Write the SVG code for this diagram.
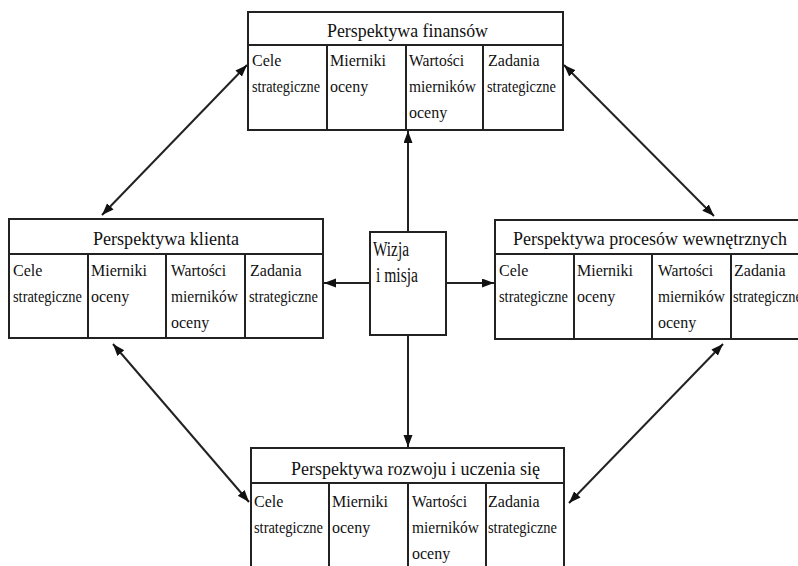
<svg xmlns="http://www.w3.org/2000/svg" width="798" height="566" viewBox="0 0 798 566">
<style>
.box{fill:#fff;stroke:#222;stroke-width:2}
.div{stroke:#222;stroke-width:2;fill:none}
.hdr{font-family:'Liberation Serif','DejaVu Serif',serif;font-size:18px;fill:#111}
.cell{font-family:'Liberation Serif','DejaVu Serif',serif;font-size:16px;fill:#111}
.wiz{font-family:'Liberation Serif','DejaVu Serif',serif;font-size:20px;fill:#111}
.con{stroke:#222;stroke-width:2;fill:none}
</style>
<defs>
<marker id="ah" markerUnits="userSpaceOnUse" markerWidth="13" markerHeight="10" refX="12" refY="4.5" orient="auto-start-reverse">
<path d="M0,0 L12,4.5 L0,9 z" fill="#111"/>
</marker>
</defs>

<g id="connectors">
<line class="con" x1="408" y1="232" x2="408" y2="131" marker-end="url(#ah)"/>
<line class="con" x1="408" y1="335" x2="408" y2="447" marker-end="url(#ah)"/>
<line class="con" x1="370" y1="283" x2="324" y2="283" marker-end="url(#ah)"/>
<line class="con" x1="446" y1="283" x2="494" y2="283" marker-end="url(#ah)"/>
<line class="con" x1="247" y1="65" x2="102" y2="215" marker-start="url(#ah)" marker-end="url(#ah)"/>
<line class="con" x1="564" y1="65" x2="714" y2="216" marker-start="url(#ah)" marker-end="url(#ah)"/>
<line class="con" x1="113" y1="344" x2="249" y2="502" marker-start="url(#ah)" marker-end="url(#ah)"/>
<line class="con" x1="723" y1="344" x2="569" y2="503" marker-start="url(#ah)" marker-end="url(#ah)"/>
</g>

<g id="finanse">
<rect class="box" x="248" y="12" width="315" height="118"/>
<path class="div" d="M248 45H563M327 45V130M406 45V130M483 45V130"/>
<text class="hdr" x="327" y="37" textLength="161" lengthAdjust="spacingAndGlyphs">Perspektywa finansów</text>
<text class="cell" x="252" y="66">Cele</text>
<text class="cell" x="252" y="92" textLength="68" lengthAdjust="spacingAndGlyphs">strategiczne</text>
<text class="cell" x="330" y="66">Mierniki</text>
<text class="cell" x="330" y="92">oceny</text>
<text class="cell" x="409" y="66" textLength="55" lengthAdjust="spacingAndGlyphs">Wartości</text>
<text class="cell" x="409" y="92" textLength="67" lengthAdjust="spacingAndGlyphs">mierników</text>
<text class="cell" x="409" y="118">oceny</text>
<text class="cell" x="488" y="66">Zadania</text>
<text class="cell" x="487" y="92" textLength="69" lengthAdjust="spacingAndGlyphs">strategiczne</text>
</g>

<g id="klient">
<rect class="box" x="9" y="219" width="314" height="119"/>
<path class="div" d="M9 254H323M88 254V338M166 254V338M245 254V338"/>
<text class="hdr" x="93" y="245" textLength="146" lengthAdjust="spacingAndGlyphs">Perspektywa klienta</text>
<text class="cell" x="13" y="276">Cele</text>
<text class="cell" x="13" y="302" textLength="69" lengthAdjust="spacingAndGlyphs">strategiczne</text>
<text class="cell" x="91" y="276">Mierniki</text>
<text class="cell" x="91" y="302">oceny</text>
<text class="cell" x="171" y="276" textLength="55" lengthAdjust="spacingAndGlyphs">Wartości</text>
<text class="cell" x="171" y="302" textLength="67" lengthAdjust="spacingAndGlyphs">mierników</text>
<text class="cell" x="171" y="328">oceny</text>
<text class="cell" x="250" y="276">Zadania</text>
<text class="cell" x="249" y="302" textLength="69" lengthAdjust="spacingAndGlyphs">strategiczne</text>
</g>

<g id="procesy">
<rect class="box" x="495" y="220" width="315" height="119"/>
<path class="div" d="M495 254H810M574 254V339M652 254V339M731 254V339"/>
<text class="hdr" x="513" y="245" textLength="274" lengthAdjust="spacingAndGlyphs">Perspektywa procesów wewnętrznych</text>
<text class="cell" x="499" y="276">Cele</text>
<text class="cell" x="499" y="302" textLength="69" lengthAdjust="spacingAndGlyphs">strategiczne</text>
<text class="cell" x="577" y="276">Mierniki</text>
<text class="cell" x="577" y="302">oceny</text>
<text class="cell" x="658" y="276" textLength="55" lengthAdjust="spacingAndGlyphs">Wartości</text>
<text class="cell" x="658" y="302" textLength="67" lengthAdjust="spacingAndGlyphs">mierników</text>
<text class="cell" x="658" y="328">oceny</text>
<text class="cell" x="734" y="276">Zadania</text>
<text class="cell" x="733" y="302" textLength="69" lengthAdjust="spacingAndGlyphs">strategiczne</text>
</g>

<g id="rozwoj">
<rect class="box" x="251" y="448" width="313" height="130"/>
<path class="div" d="M251 483H564M329 483V578M408 483V578M486 483V578"/>
<text class="hdr" x="291" y="475" textLength="249" lengthAdjust="spacingAndGlyphs">Perspektywa rozwoju i uczenia się</text>
<text class="cell" x="254" y="507">Cele</text>
<text class="cell" x="254" y="533" textLength="69" lengthAdjust="spacingAndGlyphs">strategiczne</text>
<text class="cell" x="332" y="507">Mierniki</text>
<text class="cell" x="332" y="533">oceny</text>
<text class="cell" x="412" y="507" textLength="55" lengthAdjust="spacingAndGlyphs">Wartości</text>
<text class="cell" x="412" y="533" textLength="67" lengthAdjust="spacingAndGlyphs">mierników</text>
<text class="cell" x="412" y="559">oceny</text>
<text class="cell" x="488" y="507">Zadania</text>
<text class="cell" x="488" y="533" textLength="69" lengthAdjust="spacingAndGlyphs">strategiczne</text>
</g>

<g id="wizja">
<rect class="box" x="370" y="232" width="76" height="103"/>
<text class="wiz" x="373" y="256" textLength="36" lengthAdjust="spacingAndGlyphs">Wizja</text>
<text class="wiz" x="376" y="282" textLength="42" lengthAdjust="spacingAndGlyphs">i misja</text>
</g>
</svg>
